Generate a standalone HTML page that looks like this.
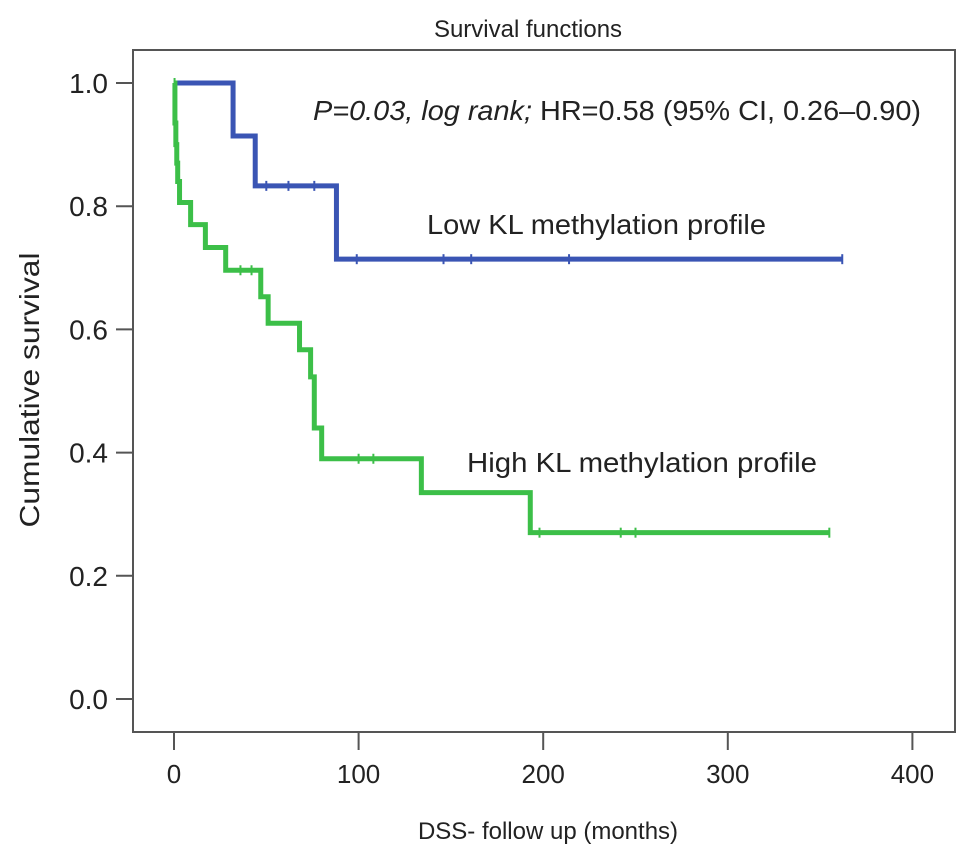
<!DOCTYPE html>
<html><head><meta charset="utf-8"><style>
body{margin:0;background:#fff}
svg text{font-family:"Liberation Sans",Arial,sans-serif;fill:#222}
</style></head><body>
<svg id="chart" width="969" height="856" viewBox="0 0 969 856" xmlns="http://www.w3.org/2000/svg">
<text x="528" y="37" font-size="24" text-anchor="middle">Survival functions</text>
<rect x="133" y="50" width="822" height="682" fill="none" stroke="#555" stroke-width="2"/>
<g id="axes"></g>
<g id="series"></g>
<text transform="translate(39,390) rotate(-90)" font-size="28" text-anchor="middle" textLength="275" lengthAdjust="spacingAndGlyphs">Cumulative survival</text>
<text x="548" y="839" font-size="24" text-anchor="middle">DSS- follow up (months)</text>
<text x="313" y="120" font-size="28" textLength="608" lengthAdjust="spacingAndGlyphs"><tspan font-style="italic">P=0.03, log rank;</tspan> HR=0.58 (95% CI, 0.26–0.90)</text>
<text x="427" y="234" font-size="28" textLength="339" lengthAdjust="spacingAndGlyphs">Low KL methylation profile</text>
<text x="467" y="472" font-size="28" textLength="350" lengthAdjust="spacingAndGlyphs">High KL methylation profile</text>
</svg>
<script>
const xTicks=[0,100,200,300,400];
const yTicks=[0.0,0.2,0.4,0.6,0.8,1.0];
const lowTimes=[0,32,44,88];
const lowSurv=[1.0,0.914,0.833,0.714];
const lowEnd=362;
const lowCensor=[50,62,76,99,146,161,214,362];
const highTimes=[0,0.5,1,1.5,2,3,9,17,28,47,51,68,74,76,80,134,193];
const highSurv=[1.0,0.935,0.90,0.87,0.84,0.806,0.77,0.733,0.696,0.653,0.61,0.567,0.523,0.44,0.39,0.335,0.27];
const highEnd=355;
const highCensor=[0.3,0.8,1.2,2.5,36,42,100,108,198,242,250,355];

const X=t=>174+t*1.846;
const Y=s=>699-s*616;
const NS="http://www.w3.org/2000/svg";
const axes=document.getElementById('axes'),ser=document.getElementById('series');
function mk(tag,attrs,parent){const e=document.createElementNS(NS,tag);for(const k in attrs)e.setAttribute(k,attrs[k]);parent.appendChild(e);return e;}
xTicks.forEach(v=>{
  const l=mk('line',{x1:X(v),x2:X(v),y1:732,y2:750,stroke:'#555','stroke-width':2},axes);
  
  
  const t=mk('text',{x:X(v),y:783,'font-size':26,'text-anchor':'middle'},axes);t.textContent=v;
  
  
});
yTicks.forEach(v=>{
  const l=mk('line',{x1:116,x2:133,y1:Y(v),y2:Y(v),stroke:'#555','stroke-width':2},axes);
  
  
  const t=mk('text',{x:108,y:Y(v)+10,'font-size':28,'text-anchor':'end'},axes);t.textContent=v.toFixed(1);
  
  
});
function survAt(times,surv,t){let s=surv[0];for(let i=0;i<times.length;i++)if(times[i]<=t)s=surv[i];return s;}
function draw(times,surv,end,cens,color,name){
  let d='M'+X(times[0])+' '+Y(surv[0]);
  for(let i=1;i<times.length;i++){d+=' H'+X(times[i])+' V'+Y(surv[i]);}
  d+=' H'+X(end);
  const p=mk('path',{d:d,fill:'none',stroke:color,'stroke-width':5,'stroke-linejoin':'miter'},ser);
  
  
  cens.forEach(c=>{
    const y=Y(survAt(times,surv,c));
    const m=mk('line',{x1:X(c),x2:X(c),y1:y-5,y2:y+5,stroke:color,'stroke-width':2},ser);
    
    
  });
}
draw(lowTimes,lowSurv,lowEnd,lowCensor,'#3a55b4','low-kl');
draw(highTimes,highSurv,highEnd,highCensor,'#3cbf48','high-kl');
</script>
</body></html>
